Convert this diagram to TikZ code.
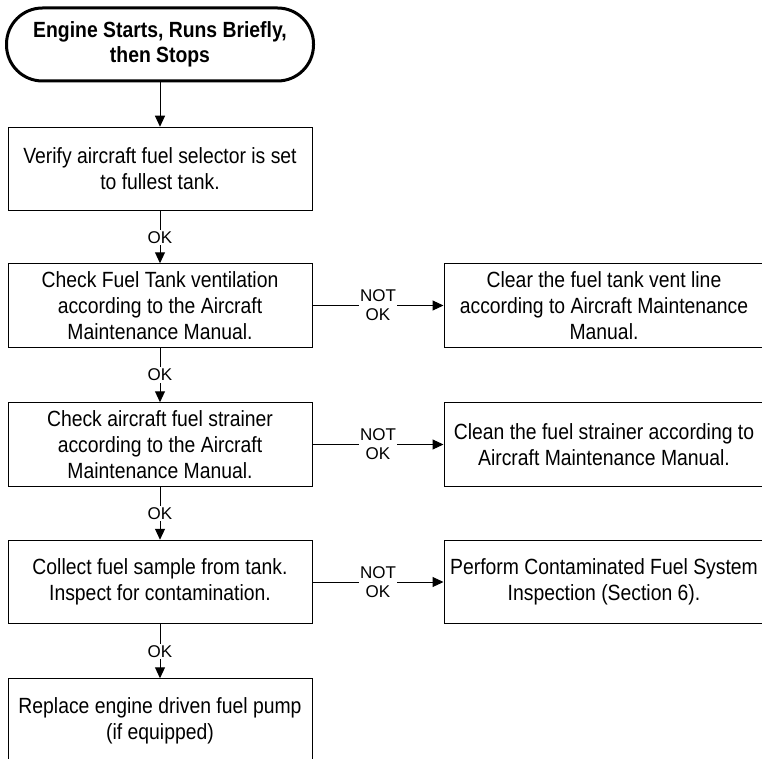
\documentclass[tikz,border=0pt]{standalone}
\usepackage{fontspec}
\setmainfont{Liberation Sans}[FakeStretch=0.88]
\newfontfamily\lblfont{Liberation Sans}
\usetikzlibrary{arrows.meta}
\begin{document}
\begin{tikzpicture}[x=1pt,y=-1pt,
  proc/.style={draw, line width=1pt, minimum width=304pt, minimum height=83.5pt,
    align=center, inner sep=0pt, font=\fontsize{22}{26}\selectfont},
  side/.style={proc, minimum width=320pt},
  term/.style={draw, line width=3pt, rounded corners=36pt, minimum width=307pt,
    minimum height=73pt, align=center, inner sep=0pt,
    font=\bfseries\fontsize{22}{25}\selectfont},
  arr/.style={line width=1pt, -{Triangle[length=11pt,width=10pt]}},
  lbl/.style={fill=white, inner sep=1.5pt, align=center,
    font={\lblfont\fontsize{17}{19}\selectfont}}
]
\useasboundingbox (0,0) rectangle (762,759);
\clip (0,0) rectangle (762,759);

\node[term] (t) at (160,44.5) {Engine Starts, Runs Briefly,\\then Stops};
\node[proc] (b1) at (160,169) {Verify aircraft fuel selector is set\\to fullest tank.};
\node[proc] (b2) at (160,305.5) {Check Fuel Tank ventilation\\according to the Aircraft\\Maintenance Manual.};
\node[proc] (b3) at (160,444.5) {Check aircraft fuel strainer\\according to the Aircraft\\Maintenance Manual.};
\node[proc] (b4) at (160,582) {Collect fuel sample from tank.\\Inspect for contamination.};
\node[proc] (b5) at (160,720.5) {Replace engine driven fuel pump\\(if equipped)};
\node[side] (r2) at (604,305.5) {Clear the fuel tank vent line\\according to Aircraft Maintenance\\Manual.};
\node[side] (r3) at (604,444.5) {Clean the fuel strainer according to\\Aircraft Maintenance Manual.};
\node[side] (r4) at (604,582) {Perform Contaminated Fuel System\\Inspection (Section 6).};

\draw[arr] (t) -- (b1);
\draw[arr] (b1) -- node[lbl] {OK} (b2);
\draw[arr] (b2) -- node[lbl] {OK} (b3);
\draw[arr] (b3) -- node[lbl] {OK} (b4);
\draw[arr] (b4) -- node[lbl] {OK} (b5);
\draw[arr] (b2) -- node[lbl] {NOT\\OK} (r2);
\draw[arr] (b3) -- node[lbl] {NOT\\OK} (r3);
\draw[arr] (b4) -- node[lbl] {NOT\\OK} (r4);
\end{tikzpicture}
\end{document}
